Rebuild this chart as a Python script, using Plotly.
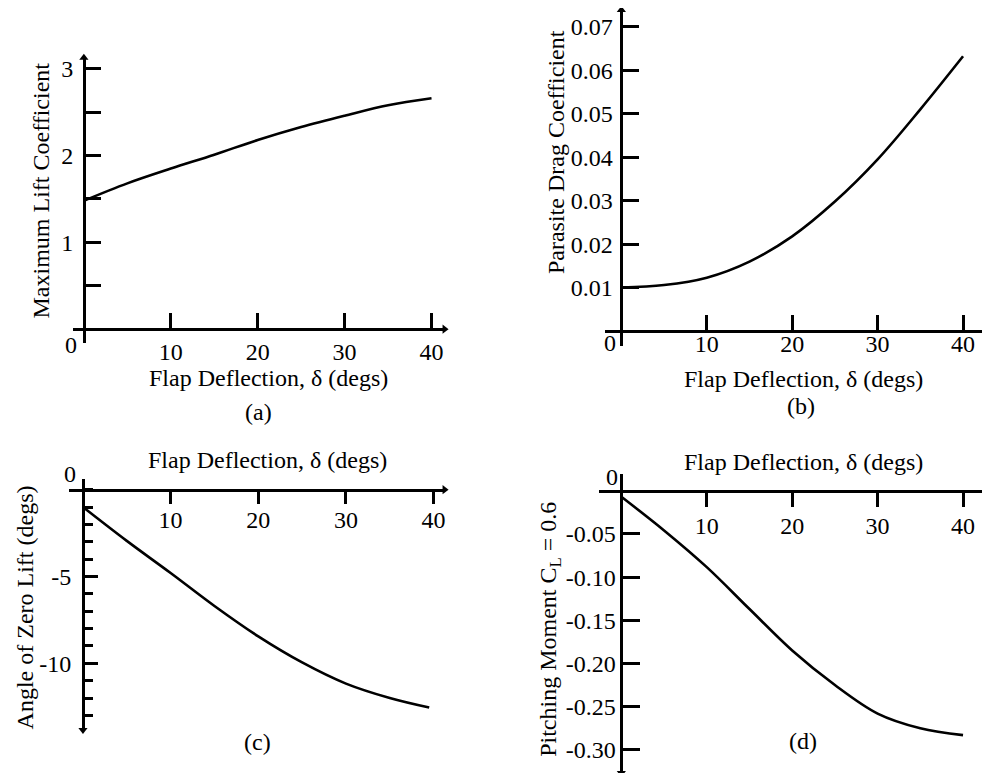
import plotly.graph_objects as go

# The page body has an 8px margin, so the figure is drawn 8px in from the window edge.
OFF = 8
W, H = 990 - OFF, 773 - OFF
FONT = "Liberation Serif"
FS = 24

# ---------------- data ----------------
flap_deg = [0, 5, 10, 15, 20, 25, 30, 35, 40]
cl_max = [1.48, 1.68, 1.85, 2.01, 2.18, 2.33, 2.46, 2.58, 2.66]
cd0 = [0.0100, 0.0106, 0.0123, 0.0160, 0.0218, 0.0298, 0.0395, 0.0510, 0.0632]
flap_deg_c = [0, 5, 10, 15, 20, 25, 30, 35, 39.5]
alpha_zl = [-1.0, -2.95, -4.8, -6.7, -8.45, -9.95, -11.17, -12.0, -12.55]
cm = [-0.007, -0.046, -0.0885, -0.137, -0.185, -0.225, -0.258, -0.275, -0.283]

x_ticks = [10, 20, 30, 40]
a_yticks = [1, 2, 3]
a_ytext = ["1", "2", "3"]
b_yticks = [0.01, 0.02, 0.03, 0.04, 0.05, 0.06, 0.07]
b_ytext = ["0.01", "0.02", "0.03", "0.04", "0.05", "0.06", "0.07"]
c_yticks = [-5, -10]
c_ytext = ["-5", "-10"]
d_yticks = [-0.05, -0.10, -0.15, -0.20, -0.25, -0.30]
d_ytext = ["-0.05", "-0.10", "-0.15", "-0.20", "-0.25", "-0.30"]

xtitle = "Flap Deflection, δ (degs)"

# axis ranges (layout, not data)
a_xr, a_yr = [-1.26, 41.5], [-0.161, 3.126]
b_xr, b_yr = [-1.87, 43.04], [-0.00344, 0.07385]
c_xr, c_yr = [-1.6, 41.25], [-13.85, 0.63]
d_xr, d_yr = [-2.57, 43.04], [-0.3268, 0.0196]


def px(x):
    return (x - OFF) / W


def py(y):
    return 1 - (y - OFF) / H


fig = go.Figure()
line = dict(color="black", width=2.6, shape="spline")
fig.add_trace(go.Scatter(x=flap_deg, y=cl_max, mode="lines", line=line, xaxis="x", yaxis="y"))
fig.add_trace(go.Scatter(x=flap_deg, y=cd0, mode="lines", line=line, xaxis="x2", yaxis="y2"))
fig.add_trace(go.Scatter(x=flap_deg_c, y=alpha_zl, mode="lines", line=line, xaxis="x3", yaxis="y3"))
fig.add_trace(go.Scatter(x=flap_deg, y=cm, mode="lines", line=line, xaxis="x4", yaxis="y4"))


# small arrowheads at the axis ends (marker symbols placed at the range ends)
def arrowhead(xa, ya, x, y, sym):
    fig.add_trace(go.Scatter(x=[x], y=[y], mode="markers", xaxis=xa, yaxis=ya, hoverinfo="skip",
                             cliponaxis=False,
                             marker=dict(symbol=sym, size=8, color="black", line=dict(width=0))))


arrowhead("x", "y", a_xr[1], 0, "triangle-right")
arrowhead("x", "y", 0, a_yr[1], "triangle-up")
arrowhead("x2", "y2", 0, b_yr[1], "triangle-up")
arrowhead("x3", "y3", c_xr[1], 0, "triangle-right")
arrowhead("x3", "y3", 0, c_yr[0], "triangle-down")
arrowhead("x4", "y4", 0, d_yr[0], "triangle-down")

tickfont = dict(family=FONT, size=FS, color="black")
common = dict(showgrid=False, zeroline=False, showline=True, linecolor="black",
              linewidth=2.5, tickcolor="black", tickwidth=2.5, tickfont=tickfont,
              tickmode="array", fixedrange=True)


def xax(domain, rng, pos, ticks, ticklen, standoff):
    return dict(common, domain=domain, range=rng, anchor="free", position=pos,
                side="bottom", tickvals=x_ticks, ticktext=[str(v) for v in x_ticks],
                ticks=ticks, ticklen=ticklen, ticklabelstandoff=standoff)


def yax(domain, rng, pos, vals, text, ticklen, standoff):
    return dict(common, domain=domain, range=rng, anchor="free", position=pos,
                side="left", tickvals=vals, ticktext=text, ticks="inside", ticklen=ticklen,
                ticklabelstandoff=standoff)


fig.update_layout(
    # panel (a): origin at (84, 328) px
    xaxis=xax([px(73), px(445)], a_xr, py(328), "inside", 15, 0),
    yaxis=dict(yax([py(342), py(56)], a_yr, px(84), a_yticks, a_ytext, 15, 5),
               minor=dict(tickmode="linear", tick0=0, dtick=0.5, ticks="inside",
                          ticklen=15, tickwidth=2.5, tickcolor="black")),
    # panel (b): origin at (622, 330)
    xaxis2=xax([px(606), 1.0], b_xr, py(330), "inside", 15, -10),
    yaxis2=yax([py(345), py(8)], b_yr, px(622), b_yticks, b_ytext, 16, 3),
    # panel (c): origin at (83, 489)
    xaxis3=xax([px(69), px(445)], c_xr, py(489), "outside", 13, -5),
    yaxis3=dict(yax([py(730), py(478)], c_yr, px(83), c_yticks, c_ytext, 13, 6),
                minor=dict(tickmode="linear", tick0=0, dtick=1, ticks="inside",
                           ticklen=8, tickwidth=2.5, tickcolor="black")),
    # panel (d): origin at (622, 490)
    xaxis4=xax([px(600), 1.0], d_xr, py(490), "outside", 15, -2),
    yaxis4=yax([0.0, py(473)], d_yr, px(622), d_yticks, d_ytext, 17, 0),
)


def text(t, x, y, angle=0):
    fig.add_annotation(text=t, x=px(x), y=py(y), xref="paper", yref="paper",
                       showarrow=False, textangle=angle, xanchor="center", yanchor="middle",
                       font=dict(family=FONT, size=FS, color="black"))


# axis titles
text("Maximum Lift Coefficient", 41, 189, -90)
text("Parasite Drag Coefficient", 556, 150, -90)
text("Angle of Zero Lift (degs)", 25, 607, -90)
text("Pitching Moment C<sub>L</sub> = 0.6", 551, 629, -90)
text(xtitle, 269, 377)
text(xtitle, 804, 378)
text(xtitle, 268, 459)
text(xtitle, 804, 461)
# captions
text("(a)", 259, 411)
text("(b)", 802, 405)
text("(c)", 258, 742)
text("(d)", 804, 741)
# origin zeros
text("0", 71, 344)
text("0", 611, 342)
text("0", 70, 473)
text("0", 613, 476)

fig.update_layout(width=W, height=H, autosize=False, showlegend=False,
                  margin=dict(l=0, r=0, t=0, b=0),
                  paper_bgcolor="white", plot_bgcolor="white",
                  font=dict(family=FONT, size=FS, color="black"))

fig.write_html("out.html")
